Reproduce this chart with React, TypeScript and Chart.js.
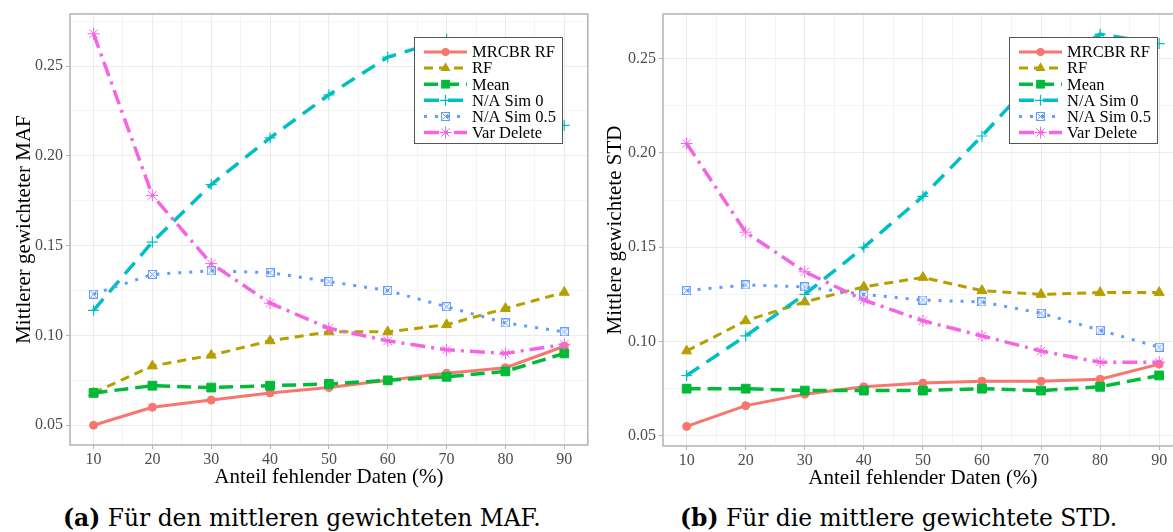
import React, { useEffect, useRef } from 'react';
import { Chart, registerables } from 'chart.js';

Chart.register(...registerables);

// ---------- data ----------
const xValues = [10, 20, 30, 40, 50, 60, 70, 80, 90];
const seriesNames = ['MRCBR RF', 'RF', 'Mean', 'N/A Sim 0', 'N/A Sim 0.5', 'Var Delete'];

// (a) mittlerer gewichteter MAF
const mafMRCBR = [0.050, 0.060, 0.064, 0.068, 0.071, 0.075, 0.079, 0.082, 0.094];
const mafRF = [0.068, 0.083, 0.089, 0.097, 0.102, 0.102, 0.106, 0.115, 0.124];
const mafMean = [0.068, 0.072, 0.071, 0.072, 0.073, 0.075, 0.077, 0.080, 0.090];
const mafNA0 = [0.114, 0.152, 0.184, 0.210, 0.234, 0.255, 0.265, 0.245, 0.217];
const mafNA05 = [0.123, 0.134, 0.136, 0.135, 0.130, 0.125, 0.116, 0.107, 0.102];
const mafVarDel = [0.268, 0.178, 0.140, 0.118, 0.104, 0.097, 0.092, 0.090, 0.095];

// (b) mittlere gewichtete STD
const stdMRCBR = [0.055, 0.066, 0.072, 0.076, 0.078, 0.079, 0.079, 0.080, 0.088];
const stdRF = [0.095, 0.111, 0.121, 0.129, 0.134, 0.127, 0.125, 0.126, 0.126];
const stdMean = [0.075, 0.075, 0.074, 0.074, 0.074, 0.075, 0.074, 0.076, 0.082];
const stdNA0 = [0.082, 0.103, 0.125, 0.150, 0.177, 0.209, 0.243, 0.263, 0.258];
const stdNA05 = [0.127, 0.130, 0.129, 0.125, 0.122, 0.121, 0.115, 0.106, 0.097];
const stdVarDel = [0.205, 0.158, 0.137, 0.122, 0.111, 0.103, 0.095, 0.089, 0.089];

// ticks
const xMajorTicks = [10, 20, 30, 40, 50, 60, 70, 80, 90];
const xMinorTicks = [15, 25, 35, 45, 55, 65, 75, 85];
const yMajorTicks = [0.05, 0.10, 0.15, 0.20, 0.25];
const yMinorTicks = [0.075, 0.125, 0.175, 0.225, 0.275];

const xTitle = 'Anteil fehlender Daten (%)';
const yTitleMAF = 'Mittlerer gewichteter MAF';
const yTitleSTD = 'Mittlere gewichtete STD';
const captionA = ['(a)', ' Für den mittleren gewichteten MAF.'];
const captionB = ['(b)', ' Für die mittlere gewichtete STD.'];

// ---------- styles ----------
const COLORS = ['#F8766D', '#B79F00', '#00BA38', '#00BFC4', '#619CFF', '#F564E3'];
const DASHES: number[][] = [[], [9, 6], [14, 7], [15, 9], [3, 8], [15, 6, 3, 6]];
const WIDTHS = [3, 3, 3.5, 3.5, 3, 3.5];
const SERIF = '"Liberation Serif", "Times New Roman", serif';

function makeBoxX(color: string): HTMLCanvasElement {
  const c = document.createElement('canvas');
  c.width = 9;
  c.height = 9;
  const g = c.getContext('2d')!;
  g.strokeStyle = color;
  g.lineWidth = 1;
  g.strokeRect(0.5, 0.5, 8, 8);
  g.beginPath();
  g.moveTo(1.5, 1.5);
  g.lineTo(7.5, 7.5);
  g.moveTo(7.5, 1.5);
  g.lineTo(1.5, 7.5);
  g.stroke();
  return c;
}

function drawMarker(ctx: CanvasRenderingContext2D, style: any, r: number, x: number, y: number, color: string, bw: number) {
  ctx.save();
  ctx.fillStyle = color;
  ctx.strokeStyle = color;
  ctx.lineWidth = bw;
  ctx.setLineDash([]);
  if (typeof style !== 'string') {
    ctx.drawImage(style, Math.round(x - style.width / 2), Math.round(y - style.height / 2));
    ctx.restore();
    return;
  }
  ctx.beginPath();
  if (style === 'circle') {
    ctx.arc(x, y, r, 0, Math.PI * 2);
    ctx.fill();
  } else if (style === 'triangle') {
    let a = 0;
    ctx.moveTo(x + Math.sin(a) * r, y - Math.cos(a) * r);
    a += (2 * Math.PI) / 3;
    ctx.lineTo(x + Math.sin(a) * r, y - Math.cos(a) * r);
    a += (2 * Math.PI) / 3;
    ctx.lineTo(x + Math.sin(a) * r, y - Math.cos(a) * r);
    ctx.closePath();
    ctx.fill();
  } else if (style === 'rect') {
    const s = Math.SQRT1_2 * r;
    ctx.rect(x - s, y - s, 2 * s, 2 * s);
    ctx.fill();
  } else if (style === 'cross') {
    ctx.moveTo(x, y - r);
    ctx.lineTo(x, y + r);
    ctx.moveTo(x - r, y);
    ctx.lineTo(x + r, y);
    ctx.stroke();
  } else if (style === 'star') {
    ctx.moveTo(x, y - r);
    ctx.lineTo(x, y + r);
    ctx.moveTo(x - r, y);
    ctx.lineTo(x + r, y);
    const o = Math.SQRT1_2 * r;
    ctx.moveTo(x - o, y - o);
    ctx.lineTo(x + o, y + o);
    ctx.moveTo(x + o, y - o);
    ctx.lineTo(x - o, y + o);
    ctx.stroke();
  }
  ctx.restore();
}

const panelPlugin = {
  id: 'ggPanel',
  afterDatasetsDraw(chart: any) {
    const { ctx, chartArea } = chart;
    ctx.save();
    // panel border
    ctx.strokeStyle = '#b3b3b3';
    ctx.lineWidth = 1.5;
    ctx.setLineDash([]);
    ctx.strokeRect(chartArea.left, chartArea.top, chartArea.right - chartArea.left, chartArea.bottom - chartArea.top);
    // legend
    const w = 148;
    const h = 106;
    const bx = Math.round(chartArea.right - 174);
    const by = Math.round(chartArea.top + 23);
    ctx.fillStyle = '#ffffff';
    ctx.fillRect(bx, by, w, h);
    ctx.strokeStyle = '#555555';
    ctx.lineWidth = 1;
    ctx.strokeRect(bx + 0.5, by + 0.5, w, h);
    chart.data.datasets.forEach((ds: any, i: number) => {
      const cy = by + 15 + i * 16.1;
      const x0 = bx + 10;
      const x1 = bx + 53;
      ctx.save();
      ctx.strokeStyle = ds.borderColor;
      ctx.lineWidth = ds.borderWidth;
      ctx.setLineDash(ds.borderDash || []);
      ctx.lineCap = 'butt';
      ctx.beginPath();
      ctx.moveTo(x0, cy);
      ctx.lineTo(x1, cy);
      ctx.stroke();
      ctx.restore();
      drawMarker(ctx, ds.pointStyle, ds.pointRadius, (x0 + x1) / 2, cy, ds.pointBackgroundColor, ds.pointBorderWidth);
      ctx.fillStyle = '#000000';
      ctx.font = `16.5px ${SERIF}`;
      ctx.textAlign = 'left';
      ctx.textBaseline = 'middle';
      ctx.fillText(ds.label, bx + 58, cy + 1);
    });
    ctx.restore();
  },
};

function buildDatasets(series: number[][]) {
  const boxX = makeBoxX(COLORS[4]);
  const styles: any[] = ['circle', 'triangle', 'rect', 'cross', boxX, 'star'];
  const radii = [4, 5.8, 6.2, 5.5, 4.5, 6];
  const pbw = [1, 1, 1, 1.2, 1, 1];
  return series.map((vals, i) => ({
    label: seriesNames[i],
    data: xValues.map((x, j) => ({ x, y: vals[j] })),
    borderColor: COLORS[i],
    backgroundColor: COLORS[i],
    borderWidth: WIDTHS[i],
    borderDash: DASHES[i],
    borderCapStyle: 'butt',
    pointStyle: styles[i],
    pointRadius: radii[i],
    pointBackgroundColor: COLORS[i],
    pointBorderColor: COLORS[i],
    pointBorderWidth: pbw[i],
    tension: 0,
    fill: false,
    order: 10 - i,
  }));
}

interface PanelCfg {
  width: number;
  height: number;
  yWidth: number;
  padRight: number;
  yMin: number;
  yMax: number;
  yTitle: string;
  yTitlePad: number;
  series: number[][];
}

const isMajorY = (v: number) => Math.round(v * 1000) % 50 === 0;
const isMajorX = (v: number) => Math.round(v) % 10 === 0;

function PanelChart({ cfg }: { cfg: PanelCfg }) {
  const ref = useRef<HTMLCanvasElement>(null);
  useEffect(() => {
    const yTicks = [...yMajorTicks, ...yMinorTicks].filter((v) => v >= cfg.yMin && v <= cfg.yMax).sort((a, b) => a - b);
    const xTicks = [...xMajorTicks, ...xMinorTicks].sort((a, b) => a - b);
    const chart = new Chart(ref.current!, {
      type: 'line',
      data: { datasets: buildDatasets(cfg.series) as any },
      plugins: [panelPlugin],
      options: {
        responsive: false,
        animation: false,
        layout: { padding: { top: 14, right: cfg.padRight, left: 0, bottom: 0 } },
        plugins: { legend: { display: false }, tooltip: { enabled: false } },
        scales: {
          x: {
            type: 'linear',
            min: 6,
            max: 94,
            afterBuildTicks: (s: any) => {
              s.ticks = xTicks.map((v) => ({ value: v }));
            },
            afterFit: (s: any) => {
              s.height = 45;
            },
            ticks: {
              autoSkip: false,
              maxRotation: 0,
              padding: 1,
              color: '#4d4d4d',
              font: { family: SERIF, size: 16 },
              callback: (v: any) => (isMajorX(Number(v)) ? String(v) : ''),
            },
            grid: {
              color: (c: any) => (isMajorX(c.tick?.value ?? 0) ? '#ebebeb' : '#f4f4f4'),
              tickColor: (c: any) => (isMajorX(c.tick?.value ?? 0) ? '#b3b3b3' : 'rgba(0,0,0,0)'),
              tickLength: 4,
              lineWidth: 1,
            },
            border: { display: false },
            title: {
              display: true,
              text: xTitle,
              color: '#000000',
              font: { family: SERIF, size: 21, lineHeight: 1.2 },
              padding: { top: 0, bottom: 0 },
            },
          },
          y: {
            type: 'linear',
            min: cfg.yMin,
            max: cfg.yMax,
            afterBuildTicks: (s: any) => {
              s.ticks = yTicks.map((v) => ({ value: v }));
            },
            afterFit: (s: any) => {
              s.width = cfg.yWidth;
            },
            ticks: {
              autoSkip: false,
              padding: 3,
              color: '#4d4d4d',
              font: { family: SERIF, size: 16 },
              callback: (v: any) => (isMajorY(Number(v)) ? Number(v).toFixed(2) : ''),
            },
            grid: {
              color: (c: any) => (isMajorY(c.tick?.value ?? 0) ? '#ebebeb' : '#f4f4f4'),
              tickColor: (c: any) => (isMajorY(c.tick?.value ?? 0) ? '#b3b3b3' : 'rgba(0,0,0,0)'),
              tickLength: 4,
              lineWidth: 1,
            },
            border: { display: false },
            title: {
              display: true,
              text: cfg.yTitle,
              color: '#000000',
              font: { family: SERIF, size: 21, lineHeight: 1.2 },
              padding: { top: cfg.yTitlePad, bottom: 0 },
            },
          },
        },
      } as any,
    });
    return () => chart.destroy();
  }, []);
  return <canvas ref={ref} width={cfg.width} height={cfg.height} style={{ display: 'block' }} />;
}

const captionStyle: React.CSSProperties = {
  position: 'absolute',
  top: 505,
  fontFamily: '"DejaVu Serif", serif',
  fontSize: 23.4,
  lineHeight: '27px',
  color: '#000',
  whiteSpace: 'nowrap',
};

export default function App() {
  const left: PanelCfg = {
    width: 595,
    height: 490,
    yWidth: 70,
    padRight: 4,
    yMin: 0.039,
    yMax: 0.279,
    yTitle: yTitleMAF,
    yTitlePad: 12,
    series: [mafMRCBR, mafRF, mafMean, mafNA0, mafNA05, mafVarDel],
  };
  const right: PanelCfg = {
    width: 600,
    height: 491,
    yWidth: 73,
    padRight: 7,
    yMin: 0.0446,
    yMax: 0.2737,
    yTitle: yTitleSTD,
    yTitlePad: 13,
    series: [stdMRCBR, stdRF, stdMean, stdNA0, stdNA05, stdVarDel],
  };
  return (
    <div
      style={{
        position: 'fixed',
        left: 0,
        top: 0,
        width: 1173,
        height: 532,
        overflow: 'hidden',
        background: '#ffffff',
      }}
    >
      <div style={{ position: 'absolute', left: 0, top: 0 }}>
        <PanelChart cfg={left} />
      </div>
      <div style={{ position: 'absolute', left: 590, top: 0 }}>
        <PanelChart cfg={right} />
      </div>
      <div style={{ ...captionStyle, left: 63 }}>
        <b>{captionA[0]}</b>
        {captionA[1]}
      </div>
      <div style={{ ...captionStyle, left: 680 }}>
        <b>{captionB[0]}</b>
        {captionB[1]}
      </div>
    </div>
  );
}
